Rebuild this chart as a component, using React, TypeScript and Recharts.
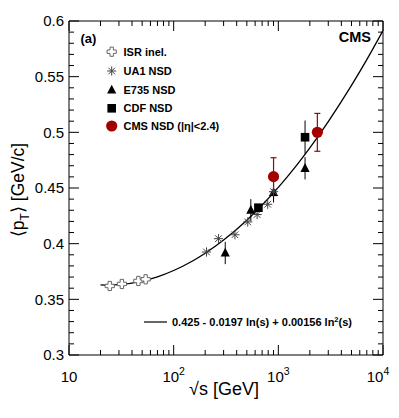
import React from 'react';
import { ComposedChart, XAxis, YAxis, Scatter, Line, ErrorBar, Customized } from 'recharts';

// ---- data ----
const isrX = [24.5, 32, 46, 54];
const isrY = [0.362, 0.3638, 0.3665, 0.368];

const ua1X = [206, 268, 385, 510, 627, 791, 900];
const ua1Y = [0.3925, 0.4045, 0.408, 0.4195, 0.4262, 0.4354, 0.4467];
const ua1Err = [0, 0, 0, 0, 0, 0, 0.009];

const e735X = [311, 546, 900, 1800];
const e735Y = [0.3916, 0.43, 0.446, 0.4677];
const e735Err = [0.01, 0.01, 0.009, 0.01];

const cdfX = [645, 1800];
const cdfY = [0.4323, 0.4956];
const cdfErr = [0, 0.015];

const cmsX = [900, 2360];
const cmsY = [0.4602, 0.5];
const cmsErr = [0.017, 0.017];

const fitX = [20, 24, 30, 50, 70, 100, 150, 200, 300, 500, 700, 1000, 1500, 2000, 3000, 5000, 7000, 10000];
const fitY = [0.363, 0.3628, 0.3632, 0.3664, 0.3702, 0.3759, 0.3842, 0.3914, 0.4033, 0.4211, 0.4347, 0.4506, 0.4706, 0.486, 0.5096, 0.5421, 0.5653, 0.5914];

const seriesNames = ['ISR inel.', 'UA1 NSD', 'E735 NSD', 'CDF NSD', 'CMS NSD (|η|<2.4)'];
const fitLabel = '0.425 - 0.0197 ln(s) + 0.00156 ln';

const xDecades = [10, 100, 1000, 10000];
const xDecadeExp = ['', '2', '3', '4'];
const yMajor = [0.3, 0.35, 0.4, 0.45, 0.5, 0.55, 0.6];
const yMajorLabels = ['0.3', '0.35', '0.4', '0.45', '0.5', '0.55', '0.6'];

// ---- helpers ----
const toPts = (xs: number[], ys: number[], es?: number[]) =>
  xs.map((x, i) => ({ x, y: ys[i], err: es ? es[i] : 0 }));

const isrData = toPts(isrX, isrY);
const ua1Data = toPts(ua1X, ua1Y, ua1Err);
const e735Data = toPts(e735X, e735Y, e735Err);
const cdfData = toPts(cdfX, cdfY, cdfErr);
const cmsData = toPts(cmsX, cmsY, cmsErr);
const fitData = toPts(fitX, fitY);

const xTicks: number[] = [];
[10, 100, 1000].forEach((d) => {
  for (let k = 1; k <= 9; k++) xTicks.push(d * k);
});
xTicks.push(10000);

const yTicks: number[] = Array.from({ length: 31 }, (_, i) => +(0.3 + 0.01 * i).toFixed(2));
const isYMajor = (v: number) => Math.abs(v * 20 - Math.round(v * 20)) < 1e-6;

const FONT = 'Liberation Sans, Arial, Helvetica, sans-serif';
const RED = '#a30000';

// ---- markers ----
const OpenCross = (cx: number, cy: number) => {
  const a = 1.7, L = 4.6;
  const d = `M${cx - a},${cy - L}H${cx + a}V${cy - a}H${cx + L}V${cy + a}H${cx + a}V${cy + L}H${cx - a}V${cy + a}H${cx - L}V${cy - a}H${cx - a}Z`;
  return <path d={d} fill="#fff" stroke="#666" strokeWidth={1} />;
};
const Asterisk = (cx: number, cy: number) => {
  const L = 4.6, D = 3.3;
  return (
    <g stroke="#444" strokeWidth={1}>
      <line x1={cx - L} y1={cy} x2={cx + L} y2={cy} />
      <line x1={cx} y1={cy - L} x2={cx} y2={cy + L} />
      <line x1={cx - D} y1={cy - D} x2={cx + D} y2={cy + D} />
      <line x1={cx - D} y1={cy + D} x2={cx + D} y2={cy - D} />
    </g>
  );
};
const Triangle = (cx: number, cy: number) => (
  <polygon points={`${cx},${cy - 5.2} ${cx - 4.6},${cy + 3.6} ${cx + 4.6},${cy + 3.6}`} fill="#000" />
);
const Square = (cx: number, cy: number) => <rect x={cx - 4.3} y={cy - 4.3} width={8.6} height={8.6} fill="#000" />;
const Circle = (cx: number, cy: number) => <circle cx={cx} cy={cy} r={5.6} fill={RED} />;

const markers = [OpenCross, Asterisk, Triangle, Square, Circle];
const shapeOf = (m: (cx: number, cy: number) => React.ReactElement) => (p: any) =>
  p && typeof p.cx === 'number' ? m(p.cx, p.cy) : <g />;

// ---- ticks ----
const BottomTick = (p: any) => {
  const { x, y, payload } = p;
  const v = payload.value;
  const idx = xDecades.indexOf(v);
  const major = idx >= 0;
  return (
    <g>
      <line x1={x} x2={x} y1={y} y2={y - (major ? 10 : 5)} stroke="#000" />
      {major && (
        <text x={v === 10000 ? x - 5 : x} y={y + 27} textAnchor="middle" fontSize={15} fontFamily={FONT} fill="#000">
          10
          {xDecadeExp[idx] && (
            <tspan dy={-7} fontSize={10.5}>
              {xDecadeExp[idx]}
            </tspan>
          )}
        </text>
      )}
    </g>
  );
};
const TopTick = (p: any) => {
  const { x, y, payload } = p;
  const major = xDecades.indexOf(payload.value) >= 0;
  return <line x1={x} x2={x} y1={y} y2={y + (major ? 10 : 5)} stroke="#000" />;
};
const LeftTick = (p: any) => {
  const { x, y, payload } = p;
  const v = payload.value;
  const major = isYMajor(v);
  const li = yMajor.findIndex((m) => Math.abs(m - v) < 1e-6);
  return (
    <g>
      <line x1={x} x2={x + (major ? 10 : 5)} y1={y} y2={y} stroke="#000" />
      {li >= 0 && (
        <text x={x - 5} y={y + 5.3} textAnchor="end" fontSize={15} fontFamily={FONT} fill="#000">
          {yMajorLabels[li]}
        </text>
      )}
    </g>
  );
};
const RightTick = (p: any) => {
  const { x, y, payload } = p;
  const major = isYMajor(payload.value);
  return <line x1={x} x2={x - (major ? 10 : 5)} y1={y} y2={y} stroke="#000" />;
};

// ---- overlay: legend, titles ----
const Overlay = () => {
  const rowsY = [43.7, 63, 82, 100.3, 118];
  return (
    <g fontFamily={FONT}>
      <text x={72.5} y={35} fontSize={13} fontWeight="bold" fill="#000">(a)</text>
      <text x={363} y={34} fontSize={14.5} fontWeight="bold" fill="#000" textAnchor="end">CMS</text>
      {seriesNames.map((n, i) => (
        <g key={n}>
          {markers[i](103.7, rowsY[i])}
          <text x={115.5} y={rowsY[i] + 4} fontSize={11} fontWeight="bold" fill="#000">{n}</text>
        </g>
      ))}
      <line x1={136} x2={159} y1={314} y2={314} stroke="#000" strokeWidth={1.2} />
      <text x={164} y={318} fontSize={11} fontWeight="bold" fill="#000">
        {fitLabel}
        <tspan dy={-4.5} fontSize={7.5}>2</tspan>
        <tspan dy={4.5}>(s)</tspan>
      </text>
      <text x={216} y={387} fontSize={18} textAnchor="middle" fill="#000">√s [GeV]</text>
      <text x={16} y={182} fontSize={17.5} textAnchor="middle" fill="#000" transform="rotate(-90 16 182)">
        ⟨p<tspan dy={5} fontSize={12}>T</tspan><tspan dy={-5}>⟩ [GeV/c]</tspan>
      </text>
    </g>
  );
};

export default function App() {
  return (
    <div style={{ width: 383, height: 402 }}>
      <ComposedChart width={383} height={402} margin={{ top: 0, right: 0, bottom: 0, left: 0 }} style={{ overflow: 'visible' }}>
        <XAxis
          xAxisId="b"
          type="number"
          dataKey="x"
          scale="log"
          domain={[10, 10000]}
          allowDataOverflow
          ticks={xTicks}
          interval={0}
          tick={(p: any) => <BottomTick {...p} />}
          tickLine={false}
          tickSize={0}
          tickMargin={0}
          height={55}
          axisLine={{ stroke: '#000' }}
        />
        <XAxis
          xAxisId="t"
          orientation="top"
          type="number"
          dataKey="x"
          scale="log"
          domain={[10, 10000]}
          allowDataOverflow
          ticks={xTicks}
          interval={0}
          tick={(p: any) => <TopTick {...p} />}
          tickLine={false}
          tickSize={0}
          tickMargin={0}
          height={13}
          axisLine={{ stroke: '#000' }}
        />
        <YAxis
          yAxisId="l"
          type="number"
          dataKey="y"
          domain={[0.3, 0.6]}
          allowDataOverflow
          ticks={yTicks}
          interval={0}
          tick={(p: any) => <LeftTick {...p} />}
          tickLine={false}
          tickSize={0}
          tickMargin={0}
          width={61}
          axisLine={{ stroke: '#000' }}
        />
        <YAxis
          yAxisId="r"
          orientation="right"
          type="number"
          dataKey="y"
          domain={[0.3, 0.6]}
          allowDataOverflow
          ticks={yTicks}
          interval={0}
          tick={(p: any) => <RightTick {...p} />}
          tickLine={false}
          tickSize={0}
          tickMargin={0}
          width={8}
          axisLine={{ stroke: '#000' }}
        />
        <Line
          xAxisId="b"
          yAxisId="l"
          data={fitData}
          dataKey="y"
          type="monotone"
          stroke="#000"
          strokeWidth={1.3}
          dot={false}
          activeDot={false}
          isAnimationActive={false}
        />
        <Scatter xAxisId="b" yAxisId="l" data={isrData} dataKey="y" shape={shapeOf(OpenCross)} isAnimationActive={false} />
        <Scatter xAxisId="b" yAxisId="l" data={e735Data} dataKey="y" shape={shapeOf(Triangle)} isAnimationActive={false}>
          <ErrorBar dataKey="err" direction="y" width={0} stroke="#000" strokeWidth={1} isAnimationActive={false} />
        </Scatter>
        <Scatter xAxisId="b" yAxisId="l" data={ua1Data} dataKey="y" shape={shapeOf(Asterisk)} isAnimationActive={false}>
          <ErrorBar dataKey="err" direction="y" width={0} stroke="#000" strokeWidth={1} isAnimationActive={false} />
        </Scatter>
        <Scatter xAxisId="b" yAxisId="l" data={cdfData} dataKey="y" shape={shapeOf(Square)} isAnimationActive={false}>
          <ErrorBar dataKey="err" direction="y" width={0} stroke="#000" strokeWidth={1} isAnimationActive={false} />
        </Scatter>
        <Scatter xAxisId="b" yAxisId="l" data={cmsData} dataKey="y" shape={shapeOf(Circle)} isAnimationActive={false}>
          <ErrorBar dataKey="err" direction="y" width={3} stroke={RED} strokeWidth={1.2} isAnimationActive={false} />
        </Scatter>
        <Customized component={Overlay} />
      </ComposedChart>
    </div>
  );
}
